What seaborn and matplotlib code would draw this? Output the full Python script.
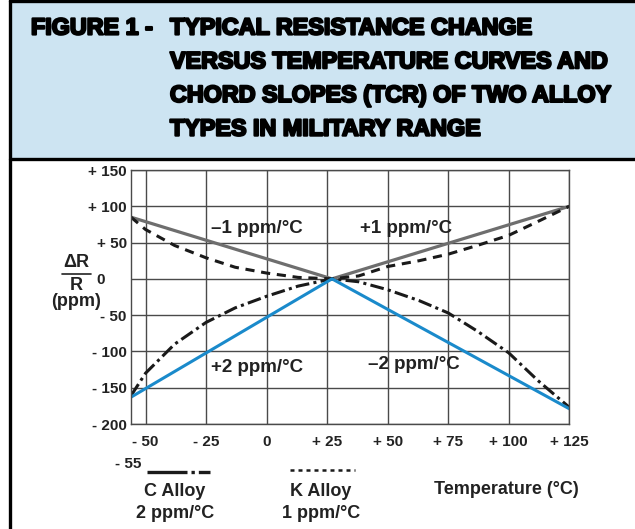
import matplotlib
matplotlib.use("Agg")
import matplotlib.pyplot as plt
import matplotlib.patheffects as pe
import seaborn as sns
from matplotlib.lines import Line2D
from matplotlib.patches import Rectangle

# values (temperature in degC, dR/R in ppm)
chord_temp = [-56, 27, 125]
k_chord = [85, 0, 100]        # grey chord, -1 / +1 ppm/degC
c_chord = [-163, 0, -179]     # blue chord, +2 / -2 ppm/degC

curve_temp = [-56, -50, -38, -25, -13, 0, 13, 27, 38, 50, 63, 75, 87, 100, 112, 125]
k_curve = [85, 68, 46, 29, 16, 8, 2, 0, 4, 17, 25, 34, 46, 60, 79, 100]
c_curve = [-161, -130, -90, -60, -40, -24, -10, 0, -4, -15, -30, -47, -72, -102, -140, -177]

x_ticks = [-50, -25, 0, 25, 50, 75, 100, 125]
x_labels = ["- 50", "- 25", "0", "+ 25", "+ 50", "+ 75", "+ 100", "+ 125"]
y_ticks = [-200, -150, -100, -50, 0, 50, 100, 150]
y_labels = ["- 200", "- 150", "- 100", "- 50", "0     ", "+ 50", "+ 100", "+ 150"]

title_lines = ["TYPICAL RESISTANCE CHANGE",
               "VERSUS TEMPERATURE CURVES AND",
               "CHORD SLOPES (TCR) OF TWO ALLOY",
               "TYPES IN MILITARY RANGE"]

sns.set_theme(style="white")
plt.rcParams["font.family"] = ["Liberation Sans", "DejaVu Sans"]
plt.rcParams["font.weight"] = "bold"

W, H = 635, 529
fig = plt.figure(figsize=(W / 100, H / 100), dpi=100)
fig.patch.set_facecolor("white")


def fx(px):
    return px / W


def fy(py):
    return 1 - py / H


# title box
fig.patches.append(Rectangle((fx(10), fy(159)), 1, 159 / H, transform=fig.transFigure,
                             facecolor="#cde4f2", edgecolor="none", zorder=0))
for seg in [([fx(10), 1], [fy(1), fy(1)]),
            ([fx(10), 1], [fy(159), fy(159)]),
            ([fx(9.5), fx(9.5)], [0, 1])]:
    fig.add_artist(Line2D(seg[0], seg[1], color="black", lw=2.4, transform=fig.transFigure))

heavy = [pe.withStroke(linewidth=1.6, foreground="black")]
fig.text(fx(31), fy(28), "FIGURE 1 -", fontsize=16.8, fontweight="bold", va="center",
         ha="left", color="black", path_effects=heavy)
for i, line in enumerate(title_lines):
    fig.text(fx(170), fy(28 + 33.7 * i), line, fontsize=16.8, fontweight="bold",
             va="center", ha="left", color="black", path_effects=heavy)

# chart
ax = fig.add_axes([fx(131), fy(424), (569.3 - 131) / W, (424 - 170) / H])
sns.lineplot(x=chord_temp, y=k_chord, ax=ax, color="#6e6e6e", linewidth=2.3, legend=False)
sns.lineplot(x=curve_temp, y=k_curve, ax=ax, color="#1a1a1a", linewidth=2.2,
             linestyle=(0, (3, 2.2)), legend=False)
sns.lineplot(x=curve_temp, y=c_curve, ax=ax, color="#1a1a1a", linewidth=2.2,
             linestyle=(0, (4.5, 1.4, 1, 1.4)), legend=False)
sns.lineplot(x=chord_temp, y=c_chord, ax=ax, color="#1a8acb", linewidth=2.2, legend=False)

ax.set_xlim(-56, 125)
ax.set_ylim(-200, 150)
ax.set_xticks(x_ticks)
ax.set_xticklabels(x_labels)
ax.set_yticks(y_ticks)
ax.set_yticklabels(y_labels)
ax.tick_params(axis="both", length=0, labelsize=11, labelcolor="#222222")
ax.tick_params(axis="x", pad=8)
ax.tick_params(axis="y", pad=3)
for lab in ax.get_xticklabels() + ax.get_yticklabels():
    lab.set_fontweight("bold")
ax.grid(True, color="#4a4a4a", linewidth=1.0)
ax.set_axisbelow(True)
for s in ax.spines.values():
    s.set_color("#4a4a4a")
    s.set_linewidth(1.0)
ax.set_xlabel("")
ax.set_ylabel("")

txt = dict(fontsize=13.5, fontweight="bold", color="#222222", ha="center", va="center")
ax.text(-4, 69, "\u20131 ppm/\u00b0C", **txt)
ax.text(57.6, 69, "+1 ppm/\u00b0C", **txt)
ax.text(-4, -122, "+2 ppm/\u00b0C", **txt)
ax.text(61, -118, "\u20132 ppm/\u00b0C", **txt)

ax.annotate("- 55", xy=(-55, 0), xycoords=("data", "axes fraction"), xytext=(-4, -29),
            textcoords="offset points", ha="center", va="center", fontsize=11,
            fontweight="bold", color="#222222", annotation_clip=False)

# y axis label as fraction
lab = dict(fontsize=13, fontweight="bold", color="#222222", ha="center", va="center")
fig.text(fx(76), fy(262), "\u0394R", **lab)
fig.add_artist(Line2D([fx(62), fx(91)], [fy(274), fy(274)], color="#222222", lw=1.2,
                      transform=fig.transFigure))
fig.text(fx(76), fy(285), "R", **lab)
fig.text(fx(76), fy(301), "(ppm)", **lab)

# legend keys below the chart
fig.add_artist(Line2D([fx(147), fx(210)], [fy(471.5), fy(471.5)], color="#1a1a1a", lw=2.4,
                      linestyle=(0, (12, 1.2, 1, 1.2)), transform=fig.transFigure))
fig.add_artist(Line2D([fx(290), fx(355)], [fy(470), fy(470)], color="#1a1a1a", lw=1.8,
                      linestyle=(0, (1.6, 1.6)), transform=fig.transFigure))
fig.text(fx(175), fy(491), "C Alloy", **lab)
fig.text(fx(175), fy(514), "2 ppm/\u00b0C", **lab)
fig.text(fx(321), fy(491), "K Alloy", **lab)
fig.text(fx(321), fy(514), "1 ppm/\u00b0C", **lab)
fig.text(fx(506), fy(489), "Temperature (\u00b0C)", **lab)

fig.savefig("out.png", dpi=100, facecolor="white")
plt.close(fig)
